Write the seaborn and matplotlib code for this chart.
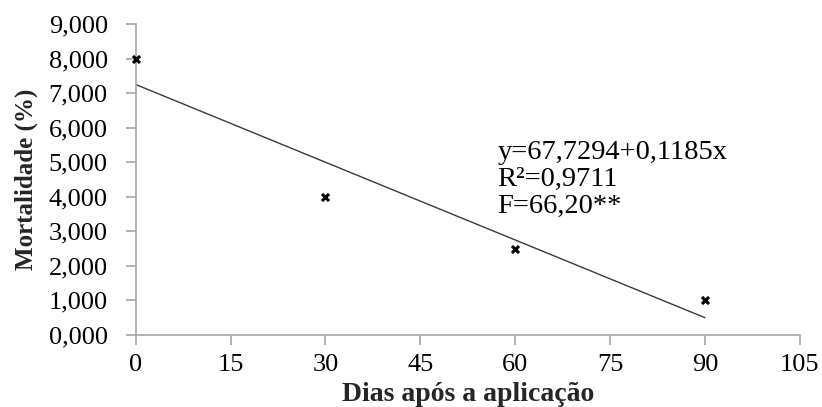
import matplotlib
matplotlib.use("Agg")
import matplotlib.pyplot as plt
import seaborn as sns
import pandas as pd
from matplotlib.ticker import FuncFormatter, MultipleLocator

# Observed mortality at each sampling day
dias = [0, 30, 60, 90]
mortalidade = [8.0, 4.0, 2.5, 1.0]

equacao = ["y=67,7294+0,1185x", "R\u00b2=0,9711", "F=66,20**"]

sns.set_theme(style="white")
plt.rcParams["font.family"] = ["Liberation Serif", "DejaVu Serif"]

df = pd.DataFrame({"dias": dias, "mortalidade": mortalidade})

fig = plt.figure(figsize=(8.22, 4.07), dpi=100)
ax = fig.add_axes([0.165, 0.177, 0.808, 0.764])

# Least-squares line over the sampled days, then the observed points on top
sns.regplot(data=df, x="dias", y="mortalidade", ax=ax, scatter=False, ci=None,
            truncate=True, line_kws={"color": "#3a3a3a", "linewidth": 1.0})
sns.scatterplot(data=df, x="dias", y="mortalidade", ax=ax, marker="x",
                color="black", s=26, linewidth=2.2, zorder=5, clip_on=False)

ax.set_xlim(0, 105)
ax.set_ylim(0, 9)
ax.xaxis.set_major_locator(MultipleLocator(15))
ax.yaxis.set_major_locator(MultipleLocator(1))
ax.yaxis.set_major_formatter(FuncFormatter(lambda v, p: f"{v:.3f}".replace(".", ",")))

for side in ["top", "right"]:
    ax.spines[side].set_visible(False)
for side in ["left", "bottom"]:
    ax.spines[side].set_color("#a6a6a6")
    ax.spines[side].set_linewidth(1.2)

ax.tick_params(axis="both", which="major", direction="out", length=7, width=1.2,
               color="#a6a6a6", labelsize=19, labelcolor="black",
               left=True, bottom=True)
ax.tick_params(axis="y", pad=13)
ax.tick_params(axis="x", pad=7)

ax.set_xlabel("Dias ap\u00f3s a aplica\u00e7\u00e3o", fontsize=20, fontweight="bold", labelpad=4)
ax.set_ylabel("Mortalidade (%)", fontsize=18, fontweight="bold", labelpad=8)

ax.text(57.2, 5.65, "\n".join(equacao), fontsize=20.5, va="top", ha="left",
        linespacing=1.1, color="black")

fig.savefig("out.png", dpi=100)
